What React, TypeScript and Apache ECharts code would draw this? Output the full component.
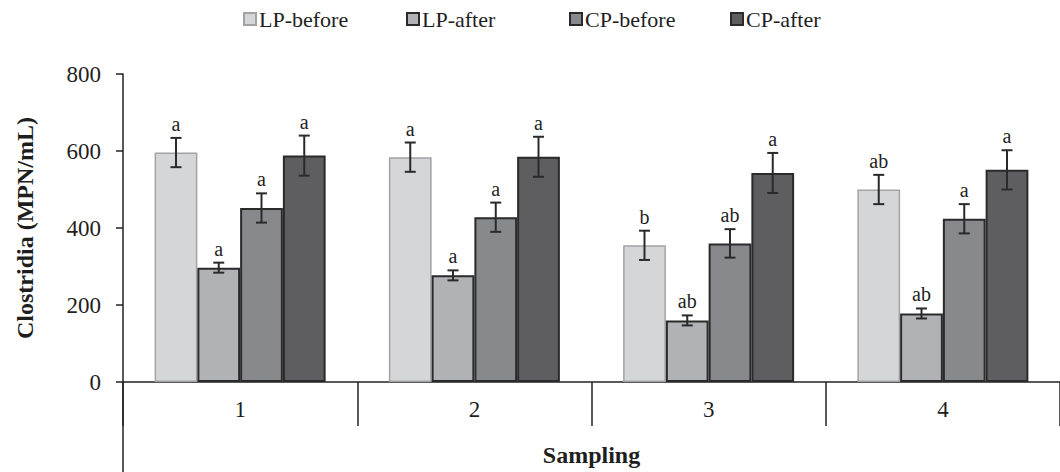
import React, { useEffect, useRef } from "react";
import * as echarts from "echarts";

const categories = ["1", "2", "3", "4"];
const seriesNames = ["LP-before", "LP-after", "CP-before", "CP-after"];
const lpBefore = [596, 584, 355, 500];
const lpAfter = [297, 277, 160, 178];
const cpBefore = [452, 428, 360, 424];
const cpAfter = [588, 585, 543, 551];
const lpBeforeErr = [38, 38, 38, 38];
const lpAfterErr = [13, 13, 13, 13];
const cpBeforeErr = [38, 38, 37, 38];
const cpAfterErr = [52, 52, 52, 51];
const lpBeforeLetters = ["a", "a", "b", "ab"];
const lpAfterLetters = ["a", "a", "ab", "ab"];
const cpBeforeLetters = ["a", "a", "ab", "a"];
const cpAfterLetters = ["a", "a", "a", "a"];
const yTicks = { min: 0, max: 800, interval: 200 };

const FONT = "Liberation Serif";
const fills = ["#d5d6d8", "#b1b2b5", "#88898d", "#5e5e61"];
const borders = ["#a3a3a5", "#2a2a2a", "#2a2a2a", "#2a2a2a"];
const legendLefts = [243, 406, 569, 730];
const CAT_GAP = 0.27;

export default function App() {
  const ref = useRef<HTMLDivElement>(null);
  useEffect(() => {
    if (!ref.current) return;
    const chart = echarts.init(ref.current, undefined, { renderer: "svg" });
    const values = [lpBefore, lpAfter, cpBefore, cpAfter];
    const errs = [lpBeforeErr, lpAfterErr, cpBeforeErr, cpAfterErr];
    const letters = [lpBeforeLetters, lpAfterLetters, cpBeforeLetters, cpAfterLetters];
    const errData: any[] = [];
    categories.forEach((_, c) => {
      values.forEach((vals, s) => {
        errData.push([c, s, vals[c], errs[s][c], letters[s][c]]);
      });
    });
    const barSeries = values.map((vals, s) => ({
      name: seriesNames[s],
      type: "bar",
      data: vals,
      barGap: "0%",
      barCategoryGap: CAT_GAP * 100 + "%",
      itemStyle: {
        color: fills[s],
        borderColor: borders[s],
        borderWidth: s === 0 ? 1.5 : 2,
      },
    }));
    chart.setOption({
      animation: false,
      backgroundColor: "#ffffff",
      textStyle: { fontFamily: FONT },
      legend: seriesNames.map((n, i) => ({
        data: [n],
        left: legendLefts[i],
        top: 8,
        padding: 0,
        icon: "rect",
        itemWidth: 12,
        itemHeight: 12,
        itemGap: 0,
        selectedMode: false,
        textStyle: { fontSize: 22, fontFamily: FONT, color: "#1e1e1e", lineHeight: 21, padding: [0, 0, 0, -2] },
      })),
      grid: { left: 123, top: 74, width: 946, height: 309, containLabel: false },
      xAxis: {
        type: "category",
        data: categories,
        name: "Sampling",
        nameLocation: "middle",
        nameGap: 61,
        nameTextStyle: { fontSize: 24, fontWeight: "bold", fontFamily: FONT, color: "#1e1e1e" },
        axisLine: { lineStyle: { color: "#222", width: 1.5 } },
        axisTick: { show: true, interval: 0, length: 44, lineStyle: { color: "#222", width: 1.5 } },
        axisLabel: { fontSize: 23, fontFamily: FONT, color: "#1e1e1e", margin: 16 },
      },
      yAxis: {
        type: "value",
        min: yTicks.min,
        max: yTicks.max,
        interval: yTicks.interval,
        name: "Clostridia (MPN/mL)",
        nameLocation: "middle",
        nameGap: 86,
        nameTextStyle: { fontSize: 24, fontWeight: "bold", fontFamily: FONT, color: "#1e1e1e" },
        axisLine: { show: true, lineStyle: { color: "#222", width: 1.5 } },
        axisTick: { show: true, length: 7, lineStyle: { color: "#222", width: 1.5 } },
        axisLabel: { fontSize: 23, fontFamily: FONT, color: "#1e1e1e", margin: 22 },
        splitLine: { show: false },
      },
      graphic: [
        {
          type: "line",
          shape: { x1: 123, y1: 383, x2: 123, y2: 472 },
          style: { stroke: "#222", lineWidth: 1.5 },
          z: 10,
        },
      ],
      series: [
        ...barSeries,
        {
          type: "custom",
          data: errData,
          encode: { x: 0, y: 2 },
          z: 5,
          renderItem: (params: any, api: any) => {
            const c = api.value(0);
            const s = api.value(1);
            const v = api.value(2);
            const e = api.value(3);
            const letter = errData[params.dataIndex][4];
            const band = api.size([1, 0])[0];
            const barW = (band * (1 - CAT_GAP)) / 4;
            const center = api.coord([c, 0]);
            const x = center[0] - 2 * barW + (s + 0.5) * barW;
            const yTop = api.coord([c, v + e])[1];
            const yBot = api.coord([c, v - e])[1];
            const half = 5.5;
            const ls = { stroke: "#2a2a2a", lineWidth: 2 };
            return {
              type: "group",
              children: [
                { type: "line", shape: { x1: x, y1: yTop, x2: x, y2: yBot }, style: ls },
                { type: "line", shape: { x1: x - half, y1: yTop, x2: x + half, y2: yTop }, style: ls },
                { type: "line", shape: { x1: x - half, y1: yBot, x2: x + half, y2: yBot }, style: ls },
                {
                  type: "text",
                  x: x,
                  y: yTop - 4,
                  style: {
                    text: letter,
                    align: "center",
                    verticalAlign: "bottom",
                    fontSize: 20,
                    fontFamily: FONT,
                    fill: "#1e1e1e",
                  },
                },
              ],
            };
          },
        },
      ],
    });
    return () => chart.dispose();
  }, []);
  return (
    <div
      ref={ref}
      style={{ position: "fixed", left: 0, top: 0, width: 1060, height: 472, background: "#fff" }}
    />
  );
}
